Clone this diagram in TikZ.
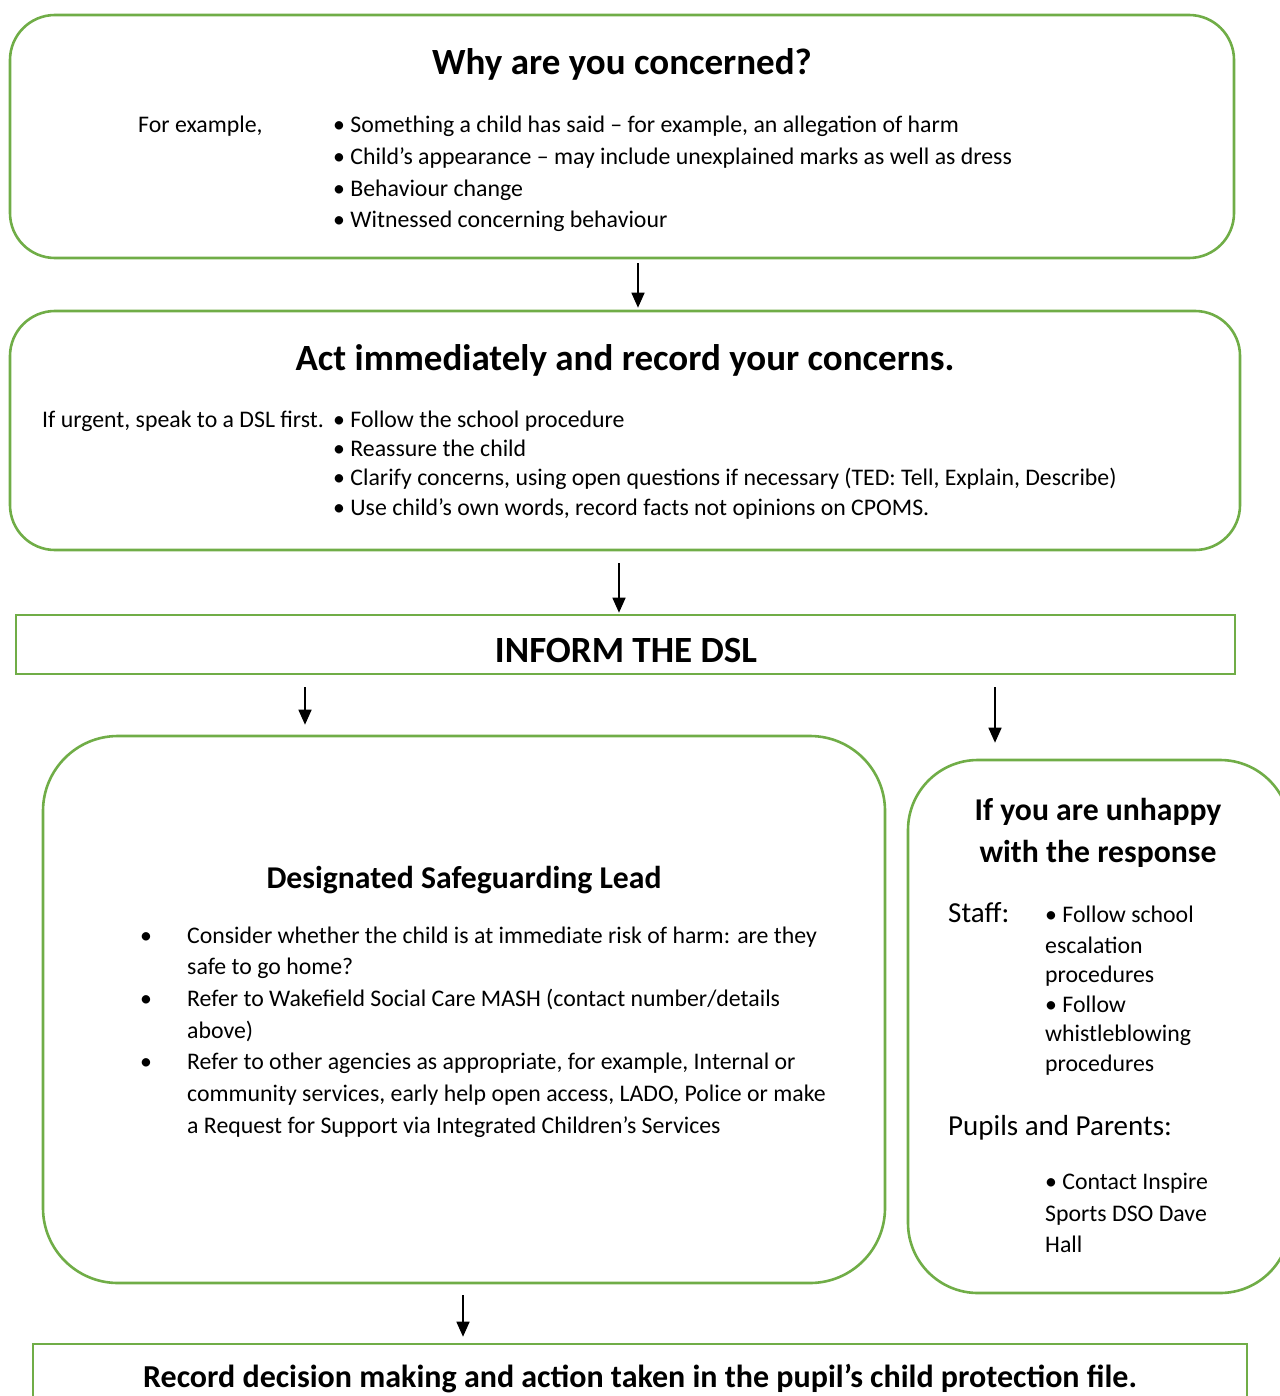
\documentclass[tikz,border=0pt]{standalone}
\usepackage{fontspec}
\setmainfont{Carlito}
\usetikzlibrary{arrows.meta,calc}
\definecolor{boxgreen}{RGB}{112,173,71}
\tikzset{
  box/.style={draw=boxgreen, line width=2.6pt, inner sep=0pt},
  rbox/.style={box, rounded corners=#1},
  body/.style={anchor=base west, inner sep=0pt, font=\fontsize{23.8}{30}\selectfont},
  side/.style={anchor=base west, inner sep=0pt, font=\fontsize{29}{34}\selectfont},
  head/.style={anchor=base, inner sep=0pt, font=\bfseries\fontsize{37}{44}\selectfont},
  subhead/.style={anchor=base, inner sep=0pt, font=\bfseries\fontsize{31.7}{38}\selectfont},
  arr/.style={-{Triangle[length=15pt,width=13pt]}, line width=1.6pt},
}
\begin{document}
\begin{tikzpicture}[x=1pt,y=-1pt]
\useasboundingbox (0,0) rectangle (1279,1396);

% boxes
\node[rbox=45pt, minimum width=1224pt, minimum height=243pt] (why) at (622,136.5) {};
\node[rbox=45pt, minimum width=1230pt, minimum height=239pt] (act) at (625,430.5) {};
\node[box, minimum width=1219pt, minimum height=59pt] (inform) at (625.5,644.5) {};
\node[rbox=75pt, minimum width=842pt, minimum height=547pt] (dsl) at (464,1009.5) {};
\node[rbox=70pt, minimum width=382pt, minimum height=533pt] (unhappy) at (1099,1026.5) {};
\node[box, minimum width=1214pt, minimum height=76pt] (record) at (640,1382) {};

% why are you concerned
\node[head] (whytitle) at (622,75) {Why are you concerned?};
\node[body] (forex) at (138,133) {For example,};
\foreach \t [count=\i from 0] in {{Something a child has said – for example, an allegation of harm},
  {Child’s appearance – may include unexplained marks as well as dress},
  {Behaviour change}, {Witnessed concerning behaviour}}
  \node[body] (why\i) at (333,{133+31.6*\i}) {•\ \t};

% act immediately
\node[head] (acttitle) at (625,370) {Act immediately and record your concerns.};
\node[body] (urgent) at (42,427) {If urgent, speak to a DSL first.};
\foreach \t [count=\i from 0] in {{Follow the school procedure}, {Reassure the child},
  {Clarify concerns, using open questions if necessary (TED: Tell, Explain, Describe)},
  {Use child’s own words, record facts not opinions on CPOMS.}}
  \node[body] (act\i) at (333,{427+29.4*\i}) {•\ \t};

% inform
\node[head] (informtitle) at (626,662) {INFORM THE DSL};

% designated safeguarding lead
\node[subhead] (dsltitle) at (464,888) {Designated Safeguarding Lead};
\foreach \t [count=\i from 0] in {{Consider whether the child is at immediate risk of harm: are they},
  {safe to go home?}, {Refer to Wakefield Social Care MASH (contact number/details},
  {above)}, {Refer to other agencies as appropriate, for example, Internal or},
  {community services, early help open access, LADO, Police or make},
  {a Request for Support via Integrated Children’s Services}}
  \node[body] (dsl\i) at (187,{943+31.7*\i}) {\t};
\foreach \i in {0,2,4}
  \node[body] (dot\i) at (140,{943+31.7*\i}) {•};

% unhappy
\node[subhead] (unh1) at (1098,820) {If you are unhappy};
\node[subhead] (unh2) at (1098,862) {with the response};
\node[side] (staff) at (948,922) {Staff:};
\foreach \t/\y in {{• Follow school}/922, escalation/953, procedures/982,
  {• Follow}/1012, whistleblowing/1041, procedures/1071}
  \node[body] (st\y) at (1045,\y) {\t};
\node[side] (pupils) at (948,1135) {Pupils and Parents:};
\foreach \t/\y in {{• Contact Inspire}/1189, {Sports DSO Dave}/1221, Hall/1252}
  \node[body] (pp\y) at (1045,\y) {\t};

% record
\node[subhead, font=\bfseries\fontsize{32}{38}\selectfont] (recordtitle) at (640,1387) {Record decision making and action taken in the pupil’s child protection file.};

% arrows
\coordinate (c1) at (638,0);
\coordinate (c2) at (619,0);
\coordinate (c3) at (305,0);
\coordinate (c4) at (995,0);
\coordinate (c5) at (463,0);
\draw[arr] ($(why.south -| c1)+(0,4)$) -- ($(act.north -| c1)+(0,-2)$);
\draw[arr] ($(act.south -| c2)+(0,12)$) -- ($(inform.north -| c2)+(0,-1)$);
\draw[arr] ($(inform.south -| c3)+(0,12)$) -- ($(dsl.north -| c3)+(0,-10)$);
\draw[arr] ($(inform.south -| c4)+(0,12)$) -- ($(unhappy.north -| c4)+(0,-16)$);
\draw[arr] ($(dsl.south -| c5)+(0,11)$) -- ($(record.north -| c5)+(0,-6)$);
\end{tikzpicture}
\end{document}
